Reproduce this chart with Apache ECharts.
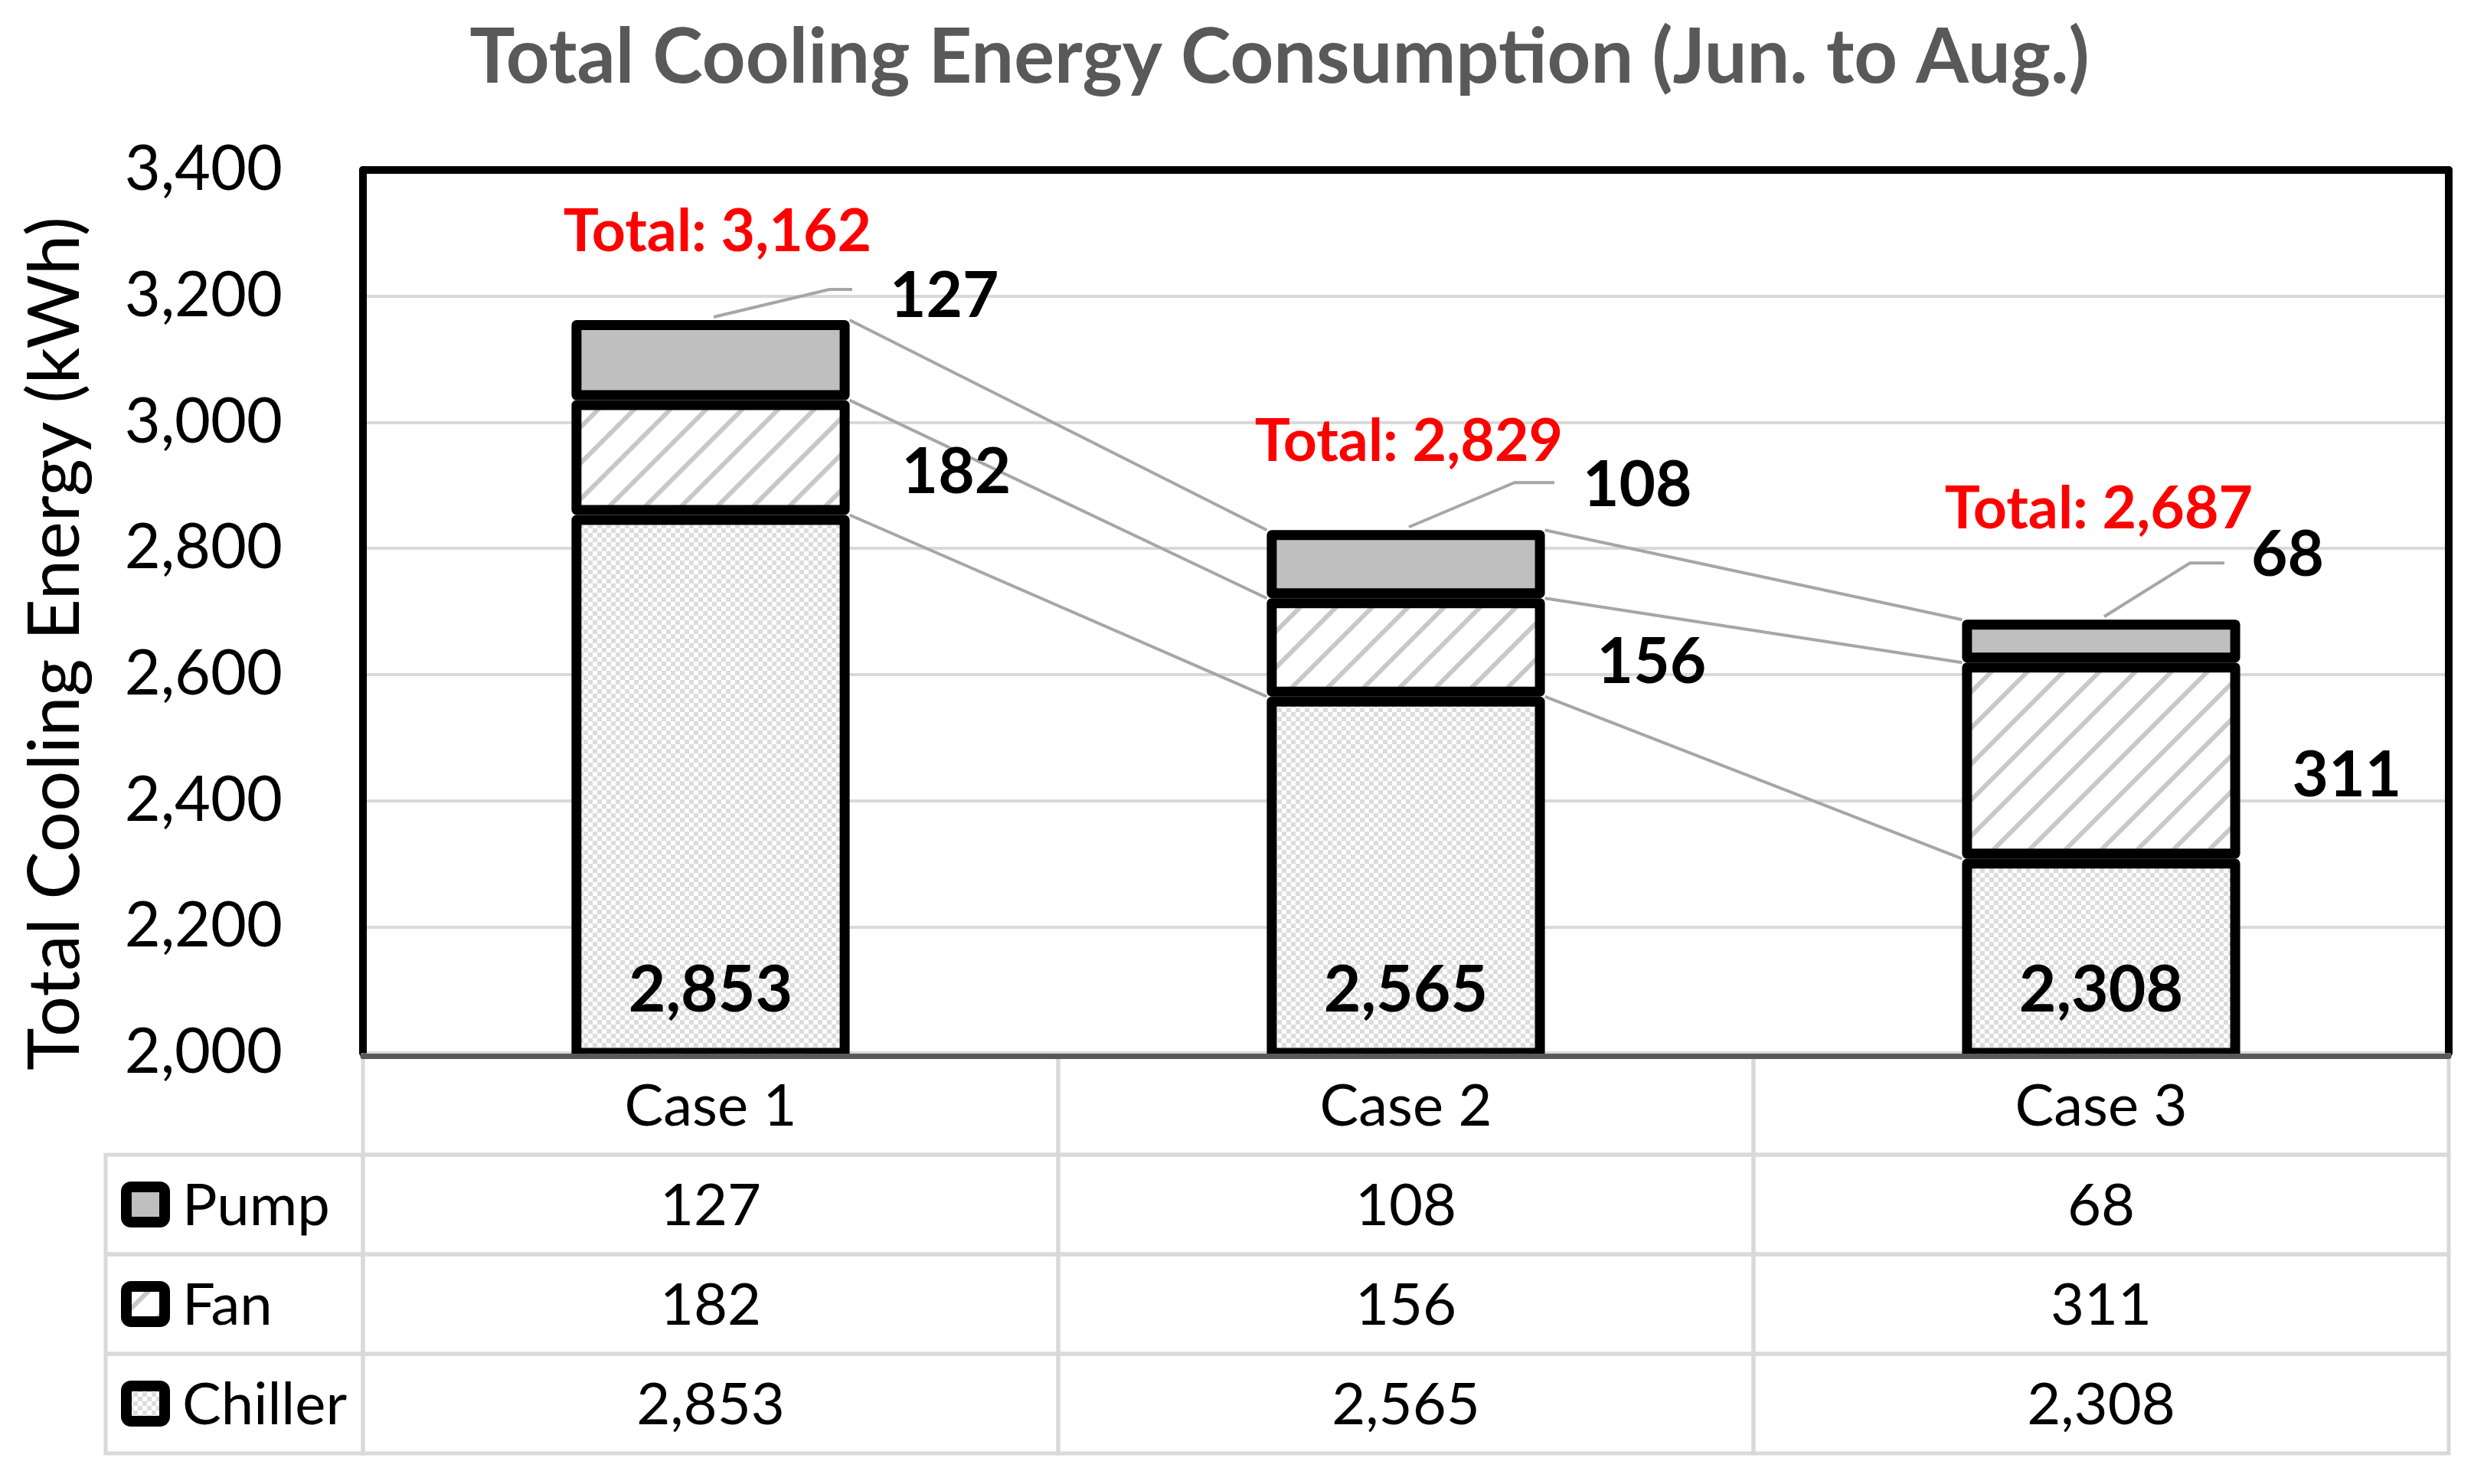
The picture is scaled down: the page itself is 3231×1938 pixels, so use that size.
<!DOCTYPE html>
<html>
<head>
<meta charset="utf-8">
<script src="https://cdn.jsdelivr.net/npm/echarts@6/dist/echarts.min.js"></script>
<style>
  html, body { margin: 0; padding: 0; background: #fff; }
  #chart { width: 3231px; height: 1938px; }
</style>
</head>
<body>
<div id="chart"></div>
<script>
var cases = ['Case 1', 'Case 2', 'Case 3'];
var parts = ['Pump', 'Fan', 'Chiller'];
var pump = [127, 108, 68];
var fan = [182, 156, 311];
var chiller = [2853, 2565, 2308];
var totals = [3162, 2829, 2687];
var yMin = 2000, yMax = 3400, yStep = 200;

var FONT = 'Lato';
var fmt = function (v) { return Number(v).toLocaleString('en-US'); };

// hand-dragged label spots in the original, relative to the bar top centre
var pumpNote = [
  { elbow: [155, -40], end: 185, text: [234, -30] },
  { elbow: [142, -62], end: 194, text: [231, -58] },
  { elbow: [116, -74], end: 161, text: [196, -84] }
];
var totalNote = [[9, -115], [4, -115], [-3, -144]];
var LABEL_COL = 336;

function stripeTile() {
  var s = 47, c = document.createElement('canvas');
  c.width = s; c.height = s;
  var g = c.getContext('2d');
  g.fillStyle = '#fff'; g.fillRect(0, 0, s, s);
  g.strokeStyle = '#c8c8c8'; g.lineWidth = 6;
  [-s, 0, s].forEach(function (o) {
    g.beginPath(); g.moveTo(o - 5, s + 5); g.lineTo(o + s + 5, -5); g.stroke();
  });
  return c;
}
function checkerTile() {
  var c = document.createElement('canvas');
  c.width = 12; c.height = 12;
  var g = c.getContext('2d');
  g.fillStyle = '#fff'; g.fillRect(0, 0, 12, 12);
  g.fillStyle = '#dcdcdc';
  g.fillRect(0, 0, 6, 6); g.fillRect(6, 6, 6, 6);
  return c;
}
var stripeFill = { image: stripeTile(), repeat: 'repeat' };
var checkerFill = { image: checkerTile(), repeat: 'repeat' };
var partFills = ['#bfbfbf', stripeFill, checkerFill];

// series lines, pump leaders, totals
function renderNotes(params, api) {
  var i = api.value(0);
  var bw = api.size([1, 0])[0] * 0.4;
  var kids = [];
  var tops = [chiller[i], chiller[i] + fan[i], totals[i]];
  var n = i + 1;
  if (n < cases.length) {
    var nextTops = [chiller[n], chiller[n] + fan[n], totals[n]];
    tops.forEach(function (v, k) {
      var a = api.coord([i, v]), b = api.coord([n, nextTops[k]]);
      kids.push({ type: 'line', shape: { x1: a[0] + bw / 2, y1: a[1], x2: b[0] - bw / 2, y2: b[1] },
        style: { stroke: '#a6a6a6', lineWidth: 4 } });
    });
  }
  var top = api.coord([i, totals[i]]);
  var p = pumpNote[i];
  kids.push({ type: 'polyline', shape: { points: [[top[0] + 4, top[1] - 4], [top[0] + p.elbow[0], top[1] + p.elbow[1]], [top[0] + p.end, top[1] + p.elbow[1]]] },
    style: { stroke: '#a6a6a6', lineWidth: 4, fill: null } });
  kids.push({ type: 'text', style: { text: fmt(pump[i]), x: top[0] + p.text[0], y: top[1] + p.text[1],
    align: 'left', verticalAlign: 'middle', fontSize: 82, fontWeight: 'bold', fontFamily: FONT, fill: '#000' } });
  var t = totalNote[i];
  kids.push({ type: 'text', style: { text: 'Total: ' + fmt(totals[i]), x: top[0] + t[0], y: top[1] + t[1],
    align: 'center', verticalAlign: 'middle', fontSize: 77, fontWeight: 'bold', fontFamily: FONT, fill: '#ff0000' } });
  return { type: 'group', children: kids };
}

var tableCells = [];
cases.forEach(function (c, ci) { tableCells.push({ c: ci, r: 0, text: c, part: -1 }); });
[pump, fan, chiller].forEach(function (row, pi) {
  row.forEach(function (v, ci) { tableCells.push({ c: ci, r: pi + 1, text: fmt(v), part: ci === 0 ? pi : -1 }); });
});

function renderTable(params, api) {
  var cell = tableCells[params.dataIndex];
  var mid = api.coord([cell.c, cell.r]);
  var sz = api.size([1, 1]);
  var x0 = mid[0] - sz[0] / 2, y0 = mid[1] - sz[1] / 2;
  var line = { stroke: '#d9d9d9', lineWidth: 5, fill: null };
  var kids = [
    { type: 'rect', shape: { x: x0, y: y0, width: sz[0], height: sz[1] }, style: line },
    { type: 'text', style: { text: cell.text, x: mid[0], y: mid[1] + 2, align: 'center', verticalAlign: 'middle',
      fontSize: 76, fontFamily: FONT, fill: '#000' } }
  ];
  if (cell.part >= 0) {
    var lx = x0 - LABEL_COL;
    kids.push({ type: 'rect', shape: { x: lx, y: y0, width: LABEL_COL, height: sz[1] }, style: line });
    kids.push({ type: 'rect', shape: { x: lx + 27, y: mid[1] - 23, width: 50, height: 46, r: 6 },
      style: { fill: partFills[cell.part], stroke: '#000', lineWidth: 14 } });
    kids.push({ type: 'text', style: { text: parts[cell.part], x: lx + 100, y: mid[1] + 2, align: 'left', verticalAlign: 'middle',
      fontSize: 76, fontFamily: FONT, fill: '#000' } });
  }
  return { type: 'group', children: kids };
}

var chart = echarts.init(document.getElementById('chart'));
var frameLine = { color: '#000', width: 10, cap: 'round' };
var barBorder = { borderColor: '#000', borderWidth: 13, borderJoin: 'round' };

chart.setOption({
  animation: false,
  textStyle: { fontFamily: FONT },
  title: {
    text: 'Total Cooling Energy Consumption (Jun. to Aug.)',
    left: 1666, top: 22, textAlign: 'center',
    textStyle: { fontSize: 99, fontWeight: 'bold', color: '#595959', fontFamily: FONT }
  },
  grid: [
    { left: 474, right: 33, top: 222, bottom: 563 },
    { left: 474, right: 33, top: 1378, bottom: 40 }
  ],
  xAxis: [
    { type: 'category', data: cases, gridIndex: 0, position: 'bottom', offset: 4, z: 10,
      axisLine: { lineStyle: { color: '#595959', width: 7 } },
      axisTick: { show: false }, axisLabel: { show: false } },
    { type: 'category', data: cases, gridIndex: 0, position: 'top',
      axisLine: { lineStyle: frameLine }, axisTick: { show: false }, axisLabel: { show: false } },
    { type: 'category', data: cases, gridIndex: 1, show: false }
  ],
  yAxis: [
    { type: 'value', gridIndex: 0, min: yMin, max: yMax, interval: yStep, position: 'left',
      name: 'Total Cooling Energy (kWh)', nameLocation: 'middle', nameGap: 354,
      nameTextStyle: { fontSize: 94, color: '#000', fontFamily: FONT, padding: [0, 84, 0, 0] },
      axisLine: { show: true, lineStyle: frameLine }, axisTick: { show: false },
      axisLabel: { formatter: fmt, fontSize: 81, color: '#000', margin: 105 },
      splitLine: { lineStyle: { color: '#d9d9d9', width: 4 } } },
    { type: 'value', gridIndex: 0, min: yMin, max: yMax, interval: yStep, position: 'right',
      axisLine: { show: true, lineStyle: frameLine }, axisTick: { show: false },
      axisLabel: { show: false }, splitLine: { show: false } },
    { type: 'category', data: ['Case'].concat(parts), gridIndex: 1, inverse: true, show: false }
  ],
  series: [
    { type: 'custom', name: 'notes', xAxisIndex: 0, yAxisIndex: 0, z: 1,
      data: cases.map(function (c, i) { return [i, totals[i]]; }), renderItem: renderNotes },
    { type: 'bar', name: 'Chiller', stack: 'total', barWidth: '40%', data: chiller, z: 2,
      itemStyle: Object.assign({ color: checkerFill }, barBorder),
      label: { show: true, position: 'insideBottom', distance: 46, formatter: function (p) { return fmt(p.value); },
        fontSize: 84, fontWeight: 'bold', color: '#000' } },
    { type: 'bar', name: 'Fan', stack: 'total', data: fan, z: 2,
      itemStyle: Object.assign({ color: stripeFill }, barBorder),
      label: { show: true, position: 'right', distance: 68, offset: [0, 20], formatter: function (p) { return fmt(p.value); },
        fontSize: 82, fontWeight: 'bold', color: '#000' } },
    { type: 'bar', name: 'Pump', stack: 'total', data: pump, z: 2,
      itemStyle: Object.assign({ color: '#bfbfbf' }, barBorder) },
    { type: 'custom', name: 'table', xAxisIndex: 2, yAxisIndex: 2,
      data: tableCells.map(function (c) { return [c.c, c.r]; }), renderItem: renderTable }
  ]
});
window.addEventListener('resize', function () { chart.resize(); });
</script>
</body>
</html>
